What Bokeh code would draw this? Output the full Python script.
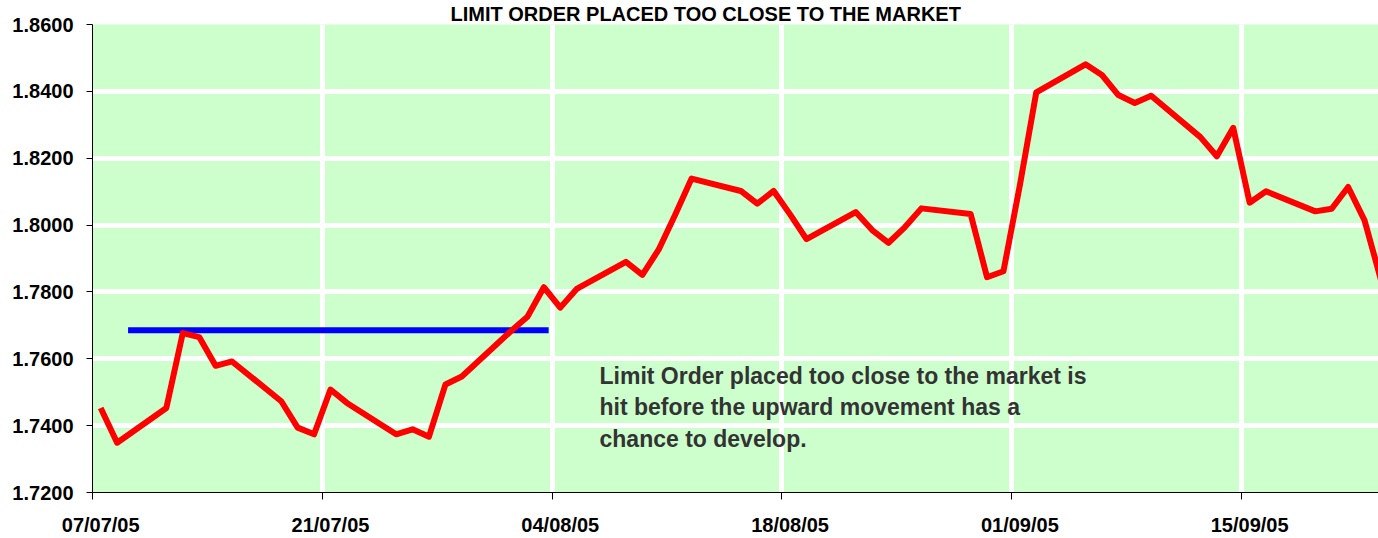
import pandas as pd
from bokeh.plotting import figure
from bokeh.models import (FixedTicker, NumeralTickFormatter, DatetimeTickFormatter,
                          Label, Range1d, ColumnDataSource)
from bokeh.embed import file_html
from bokeh.resources import INLINE

# ---------------- data ----------------
dates = ["07/07/05", "08/07/05", "11/07/05", "12/07/05", "13/07/05", "14/07/05", "15/07/05",
         "18/07/05", "19/07/05", "20/07/05", "21/07/05", "22/07/05",
         "25/07/05", "26/07/05", "27/07/05", "28/07/05", "29/07/05",
         "01/08/05", "02/08/05", "03/08/05", "04/08/05", "05/08/05",
         "08/08/05", "09/08/05", "10/08/05", "11/08/05", "12/08/05",
         "15/08/05", "16/08/05", "17/08/05", "18/08/05", "19/08/05",
         "22/08/05", "23/08/05", "24/08/05", "25/08/05", "26/08/05",
         "29/08/05", "30/08/05", "31/08/05", "01/09/05", "02/09/05",
         "05/09/05", "06/09/05", "07/09/05", "08/09/05", "09/09/05",
         "12/09/05", "13/09/05", "14/09/05", "15/09/05", "16/09/05",
         "19/09/05", "20/09/05", "21/09/05", "22/09/05", "23/09/05"]
rates = [1.7453, 1.7349, 1.7453, 1.7677, 1.7665, 1.7579, 1.7592,
         1.7473, 1.7394, 1.7374, 1.7508, 1.7468,
         1.7374, 1.7389, 1.7367, 1.7523, 1.7547,
         1.7683, 1.7726, 1.7814, 1.7753, 1.7809,
         1.7890, 1.7851, 1.7927, 1.8031, 1.8139,
         1.8102, 1.8064, 1.8102, 1.8032, 1.7958,
         1.8039, 1.7985, 1.7947, 1.7994, 1.8050,
         1.8033, 1.7844, 1.7862, 1.8119, 1.8397,
         1.8481, 1.8449, 1.8389, 1.8365, 1.8387,
         1.8263, 1.8206, 1.8291, 1.8067, 1.8101,
         1.8041, 1.8049, 1.8114, 1.8014, 1.7836]

tick_dates = ["07/07/05", "21/07/05", "04/08/05", "18/08/05", "01/09/05", "15/09/05"]
y_ticks = [1.72, 1.74, 1.76, 1.78, 1.80, 1.82, 1.84, 1.86]

limit_level = 1.7685
limit_start = "09/07/05 04:00"
limit_end = "03/08/05 19:00"

title_text = "LIMIT ORDER PLACED TOO CLOSE TO THE MARKET"
note_lines = ["Limit Order placed too close to the market is",
              "hit before the upward movement  has a",
              "chance to develop."]

# ---------------- helpers ----------------
FMT = "%d/%m/%y"
def ms(ts):
    return ts.value / 1e6

day0 = pd.to_datetime(tick_dates[0], format=FMT)
DAY = pd.Timedelta(days=1)

x_dates = pd.to_datetime(dates, format=FMT) + pd.Timedelta(hours=12)   # centre of each day
src = ColumnDataSource(dict(x=x_dates, y=rates))

tick_days = pd.to_datetime(tick_dates, format=FMT)
label_ticks = [ms(t + pd.Timedelta(hours=12)) for t in tick_days]
boundary_ticks = [ms(t) for t in tick_days]

x_start = day0
x_end = day0 + 78.35 * DAY

p = figure(width=1378, height=538, x_axis_type="datetime",
           x_range=Range1d(ms(x_start), ms(x_end)),
           y_range=Range1d(y_ticks[0], y_ticks[-1]),
           output_backend="svg", toolbar_location=None,
           min_border_left=92, min_border_right=0,
           min_border_top=0, min_border_bottom=45)

p.outline_line_color = None
p.background_fill_color = "#CCFFCC"
p.border_fill_color = "white"

# title
p.title.text = title_text
p.title.align = "left"
p.title.offset = 358
p.title.standoff = 0
p.title.text_font = "Liberation Sans"
p.title.text_font_style = "bold"
p.title.text_font_size = "20px"
p.title.text_color = "black"

# grid
p.xgrid.ticker = FixedTicker(ticks=boundary_ticks[1:])
p.ygrid.ticker = FixedTicker(ticks=y_ticks[1:])
for g in (p.xgrid, p.ygrid):
    g.grid_line_color = "white"
    g.grid_line_width = 5

# x axis
xa = p.xaxis[0]
xa.ticker = FixedTicker(ticks=label_ticks, minor_ticks=boundary_ticks)
xa.formatter = DatetimeTickFormatter(days=FMT, months=FMT, years=FMT, hours=FMT,
                                     minutes=FMT, seconds=FMT, milliseconds=FMT,
                                     minsec=FMT, hourmin=FMT)
xa.major_tick_line_color = None
xa.major_tick_out = 0
xa.major_tick_in = 0
xa.minor_tick_line_color = "black"
xa.minor_tick_out = 7
xa.minor_tick_in = 0
xa.axis_line_color = "black"
xa.major_label_standoff = 14
xa.major_label_text_font = "Liberation Sans"
xa.major_label_text_font_style = "bold"
xa.major_label_text_font_size = "20px"
xa.major_label_text_color = "black"

# y axis
ya = p.yaxis[0]
ya.ticker = FixedTicker(ticks=y_ticks)
ya.formatter = NumeralTickFormatter(format="0.0000")
ya.minor_tick_line_color = None
ya.major_tick_out = 6
ya.major_tick_in = 0
ya.major_tick_line_color = "black"
ya.axis_line_color = "black"
ya.major_label_standoff = 13
ya.major_label_text_font = "Liberation Sans"
ya.major_label_text_font_style = "bold"
ya.major_label_text_font_size = "20px"
ya.major_label_text_color = "black"

# limit order level
lim_src = ColumnDataSource(dict(
    x=[pd.to_datetime(limit_start, format=FMT + " %H:%M"),
       pd.to_datetime(limit_end, format=FMT + " %H:%M")],
    y=[limit_level, limit_level]))
p.line("x", "y", source=lim_src, line_color="#0000FF", line_width=6, line_cap="butt")

# price series
p.line("x", "y", source=src, line_color="#FF0000", line_width=6, line_join="round")

# annotation
note_x = ms(day0 + 30.89 * DAY)
for line, yv in zip(note_lines, [1.75495, 1.74572, 1.73589]):
    p.add_layout(Label(x=note_x, y=yv, text=line, text_align="left",
                       text_baseline="alphabetic", text_font="Liberation Sans",
                       text_font_style="bold", text_font_size="23px",
                       text_color="#333333"))

open("out.html", "w").write(file_html(p, INLINE))
